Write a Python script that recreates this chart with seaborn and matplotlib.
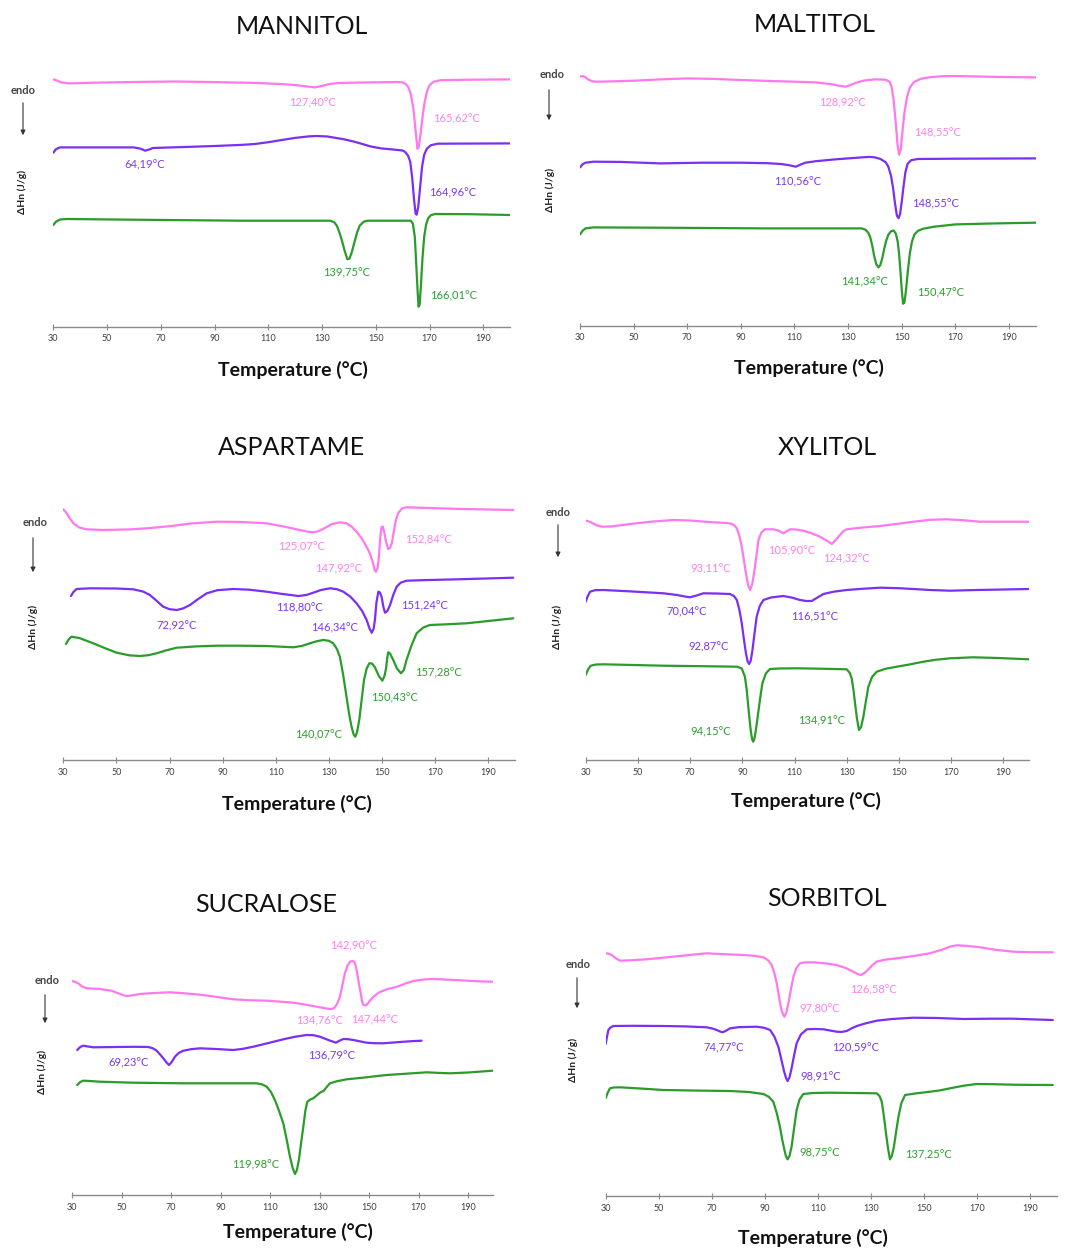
import numpy as np
import pandas as pd
import matplotlib
matplotlib.use('Agg')
import matplotlib.pyplot as plt
import seaborn as sns

# ---------------- data (temperature °C, heat-flow in arbitrary units) ----------------
TICKS = [30, 50, 70, 90, 110, 130, 150, 170, 190]
TITLES = ["MANNITOL", "MALTITOL", "ASPARTAME", "XYLITOL", "SUCRALOSE", "SORBITOL"]
XLABEL = "Temperature (°C)"
YLABEL = "ΔHn (J/g)"
ENDO = "endo"

# MANNITOL
MAN_PINK_T = [30, 31.5, 33, 36, 45, 60, 75, 90, 105, 115, 120, 124, 127.4, 130, 133, 137, 145, 158, 160, 161, 162, 163, 164, 164.8, 165.5, 166, 166.6, 167.3, 168, 169, 170, 171.5, 174, 185, 200]
MAN_PINK_H = [247.3, 246, 244.3, 243.3, 244, 244.7, 245.2, 244.6, 243.8, 242.6, 241.7, 240.3, 239.3, 240.8, 242.8, 243.8, 244.2, 244.7, 244.3, 243, 240, 233, 218, 196, 178, 180, 192, 208, 222, 235, 241.5, 245, 246.5, 247, 247.3]
MAN_PURP_T = [30, 31, 32.5, 40, 55, 60, 62.5, 64.2, 66, 67, 80, 90, 100, 105, 110, 115, 120, 125, 128, 132, 138, 142, 145, 148, 152, 156, 160, 161, 162, 162.8, 163.5, 164.2, 164.8, 165.2, 165.8, 166.5, 167.2, 168, 169, 170.5, 173, 200]
MAN_PURP_H = [174, 177.5, 179.3, 179.3, 179.3, 179.3, 178, 176, 177.5, 178.7, 179.8, 180.7, 181.8, 182.7, 184.5, 186.7, 188.8, 190.3, 190.7, 190.2, 187.5, 185, 182.7, 180.3, 178.3, 177.3, 176.2, 174.5, 171, 165, 150, 128, 113, 112, 120, 140, 160, 172, 178, 181.5, 183, 183.3]
MAN_GREEN_T = [30, 31, 32.5, 35, 60, 100, 133, 134.5, 135.5, 136.5, 137.5, 138.5, 139.4, 140.2, 141, 142, 143, 144, 145.5, 147, 163, 163.8, 164.5, 165, 165.5, 165.9, 166.3, 166.8, 167.4, 168, 168.7, 169.5, 170.5, 172, 185, 200]
MAN_GREEN_H = [101.7, 105, 107.2, 107.7, 107, 106, 106, 104.5, 101, 94, 85, 75, 67.5, 68, 74, 84, 94, 101, 105, 106, 106, 103, 90, 65, 38, 20, 22, 42, 70, 90, 102, 108.5, 111.5, 112.7, 112.5, 111.7]

# MALTITOL
MAL_PINK_T = [30, 31, 32, 33, 34.5, 36, 40, 50, 60, 70, 80, 90, 100, 110, 118, 124, 127, 129, 131, 133, 136, 140, 144, 145.5, 146.3, 147, 147.7, 148.4, 149, 149.6, 150.3, 151, 152, 153, 154.5, 157, 160, 165, 170, 185, 200]
MAL_PINK_H = [249, 249.7, 248.5, 246.3, 244.5, 244, 244.2, 245, 246.3, 247.3, 246.8, 245.7, 244.8, 244, 243.3, 241.5, 239.8, 239, 240.8, 243, 245.2, 246.3, 246, 244, 238, 225, 205, 182, 171, 176, 195, 213, 229, 238, 243.5, 246.8, 248.3, 249.5, 249.7, 248.8, 248.3]
MAL_PURP_T = [30, 31, 32, 35, 45, 60, 75, 90, 100, 105, 108, 110.5, 112, 114, 118, 125, 130, 135, 138, 140, 142, 144, 145, 146, 146.8, 147.5, 148.2, 148.8, 149.4, 150, 150.7, 151.4, 152.2, 153.5, 156, 170, 200]
MAL_PURP_H = [158.3, 161.5, 163, 164, 163.8, 162.3, 163, 163, 162.5, 161.7, 160.5, 159, 160.8, 163, 164.5, 166.3, 167.3, 168.3, 168.8, 168.3, 166.8, 163.5, 159, 150, 137, 122, 110, 107.5, 112, 124, 140, 154, 162, 165.5, 166.7, 167, 167.3]
MAL_GREEN_T = [30, 31, 32, 35, 60, 100, 135, 136.5, 137.5, 138.3, 139, 139.7, 140.5, 141.3, 142, 142.7, 143.4, 144.2, 145, 146, 147, 147.8, 148.5, 149, 149.5, 150, 150.5, 151, 151.6, 152.3, 153, 153.8, 154.7, 156, 158, 162, 170, 185, 200]
MAL_GREEN_H = [91.3, 95, 97.3, 98.3, 98, 97.3, 97.3, 96, 93, 88, 80, 70, 61.5, 58.3, 60.5, 67, 76, 85, 91, 94.5, 95.2, 92, 84, 72, 55, 36, 22, 23, 36, 55, 72, 84, 91, 94.8, 97, 99, 101.3, 102.3, 103]

# ASPARTAME
ASP_PINK_T = [30, 31.3, 32.5, 33.8, 36, 38.8, 45, 55, 62, 70, 78, 87.7, 97, 106.5, 113, 119, 122, 124.1, 126, 128.5, 131, 134.1, 136.5, 138.5, 140.5, 142.3, 144, 145.4, 146.5, 147.2, 147.7, 148.3, 148.8, 149.3, 149.8, 150.3, 150.8, 151.5, 152.3, 153, 153.7, 154.4, 155.2, 156.1, 157.5, 159, 165, 180, 199.4]
ASP_PINK_H = [250.7, 246.7, 241.5, 236.7, 232.5, 230.7, 230, 230.6, 231.8, 233.8, 236.5, 238.3, 238, 236.7, 233.5, 230, 228.3, 227.7, 228.7, 232, 235.8, 237.7, 236.8, 233.5, 228, 221.7, 214, 206.7, 198, 190, 188.3, 192, 203, 222, 233, 233.3, 228, 218, 211, 212, 217, 228, 240, 247, 251.5, 252.7, 252.2, 251, 250]
ASP_PURP_T = [32.9, 33.8, 35, 40, 50, 56.3, 60, 62.6, 65, 67.6, 70, 72.7, 75, 77.7, 80.5, 84, 88, 94, 100, 106.5, 112, 118.5, 121.5, 124.1, 127, 130.4, 133, 135.4, 138, 140.4, 142.5, 144.2, 145.2, 146.1, 146.8, 147.3, 147.9, 148.6, 149.2, 149.8, 150.5, 151.1, 152, 153, 154.2, 155.5, 157, 159.2, 165, 180, 199.4]
ASP_PURP_H = [164, 168, 171, 171.7, 171.5, 170.7, 168.5, 165, 159.5, 153.3, 150.8, 150, 151.5, 155, 160.5, 166.7, 169.8, 171, 170.3, 168.3, 166.2, 164, 165, 167.3, 170, 171.7, 170.8, 168.3, 163.5, 156.7, 149, 140, 132, 127.3, 131, 140, 158, 168.3, 167.5, 163.3, 153, 147.3, 149, 155, 165, 173.3, 177.3, 179.3, 179.8, 180.8, 182.3]
ASP_GREEN_T = [31, 32, 33.1, 36, 41.3, 46, 50.1, 55, 58.9, 62, 65.1, 68.5, 72.7, 80, 87.7, 97, 106.5, 112, 116.6, 120, 122.8, 125.5, 127.9, 130, 131.6, 133, 134.1, 135.3, 136.6, 137.6, 138.5, 139.3, 139.9, 140.6, 141.4, 142.3, 143.2, 144.2, 145.2, 146.2, 147.3, 148.8, 150.1, 150.9, 151.5, 152, 152.3, 153, 154.2, 155.6, 157.1, 158.2, 159.2, 161, 163, 165.5, 168, 175, 181.8, 190, 199.4]
ASP_GREEN_H = [116, 120.5, 123.3, 122, 116.7, 111.5, 107.3, 104.6, 104, 104.8, 106.7, 109.5, 112.3, 113.6, 114.3, 114.3, 114, 113.3, 112.7, 114.2, 116.7, 118.8, 120, 119.2, 116.7, 111, 103.3, 86, 63.3, 46, 33.3, 25.5, 23.3, 28, 40, 60, 80, 91.5, 96.7, 96.5, 92.7, 84, 79.3, 84, 91.7, 103, 107.7, 106.5, 100, 91.5, 86.7, 90, 100, 114, 126.7, 132.5, 135, 135.8, 136.7, 139, 141.7]

# XYLITOL
XYL_PINK_T = [30, 31, 32.3, 34, 36.1, 40, 47, 55, 63.6, 70, 78.9, 84, 85.9, 87, 87.9, 88.9, 89.8, 90.6, 91.4, 92.2, 93, 93.8, 94.5, 95.4, 96.2, 97.3, 98.7, 101.9, 104, 105.7, 107, 108.3, 110.5, 113.4, 116.5, 119.8, 122.3, 124.3, 125.8, 127.4, 128.7, 130, 135, 142.8, 150, 155.5, 162, 168.3, 175, 181.1, 190, 199.9]
XYL_PINK_H = [239.3, 238.8, 237.3, 235, 233.3, 233.6, 236, 238.3, 240, 239.5, 237.7, 237, 236.2, 234.5, 231.7, 224, 213.3, 200, 186.7, 175, 170, 176, 186.7, 204, 220, 227.5, 230.7, 230.7, 229.3, 226.7, 228.8, 230.7, 230.5, 229.3, 226.8, 223.3, 219.5, 216, 220, 225, 228.8, 230.7, 232.2, 234, 236.3, 238.3, 240.2, 240.7, 239.7, 238.3, 238.3, 238.3]
XYL_PURP_T = [30, 30.8, 31.7, 33.5, 36.8, 48, 59.8, 65, 68, 70, 72.5, 75.1, 80, 85.3, 86.8, 87.9, 88.9, 89.8, 90.6, 91.4, 92, 92.6, 93.2, 93.9, 94.7, 95.5, 96.7, 98.1, 101, 105.7, 109, 112.1, 114.5, 116.6, 118.8, 121.1, 125, 130, 136, 142.8, 150, 155.5, 162, 169.6, 180, 199.9]
XYL_PURP_H = [158.3, 164, 168.3, 169.8, 170, 168.5, 166.7, 165, 163.5, 162.7, 164.5, 166.7, 166.5, 166, 164, 160, 150, 136.7, 121, 106.7, 99, 96, 99, 110, 127, 143.3, 154, 160, 162.5, 164, 162.4, 160, 159, 159, 162.5, 166, 168.3, 170, 171.2, 172.3, 171.8, 171, 170, 169.3, 170, 171]
XYL_GREEN_T = [30, 30.9, 31.9, 34, 36.8, 48, 59.8, 75, 88, 89.8, 91, 91.7, 92.3, 92.8, 93.3, 93.8, 94.2, 94.6, 95, 95.9, 96.8, 97.7, 99, 100.6, 104, 110.8, 120, 130, 131.2, 131.9, 132.6, 133.2, 133.9, 134.7, 135.5, 136.4, 137.3, 138.3, 139.7, 141.5, 145, 149.2, 154, 159.4, 164, 169.6, 178.5, 188, 199.9]
XYL_GREEN_H = [85, 90.5, 94.3, 95.5, 95.7, 95, 94.3, 93.8, 93.3, 91.5, 83.3, 70, 53.3, 40, 28, 20.5, 18.3, 21, 26.5, 43.3, 61, 76.7, 86.5, 91, 91.5, 91.7, 91.3, 90.7, 87, 81.7, 70, 56.7, 42, 30, 33, 43.3, 58, 73.3, 83, 88.3, 91.3, 93.3, 95.5, 98.3, 100.2, 101.7, 102.7, 102, 100.7]

# SUCRALOSE
SUC_PINK_T = [30, 31, 32.4, 34, 35.8, 41.2, 45.9, 47.6, 49.3, 51, 52.6, 55, 57.4, 63, 69.5, 75, 81.6, 88, 95.1, 101, 108.6, 115, 119.4, 124, 128.8, 132, 134.2, 135.3, 136.2, 137.2, 138.2, 139.2, 140.2, 141.2, 142.3, 143.2, 144, 144.6, 145.2, 145.9, 146.6, 147.2, 147.7, 148.4, 149, 150.2, 151.7, 154, 157.1, 160, 162.5, 165, 167.9, 172, 176, 183, 189.4, 195, 199.9]
SUC_PINK_H = [214, 213.2, 211.7, 208.5, 206.7, 206, 204.3, 202.6, 201, 199.5, 199, 200, 201, 202, 202.7, 201.8, 200.3, 198.2, 195.7, 194.8, 194.3, 193.2, 192.3, 190.5, 188.3, 186.8, 186, 186.3, 187.7, 192, 198.3, 210, 221.7, 229, 233.3, 234, 233.3, 229, 221.7, 211, 201.7, 193, 190, 189.8, 190, 194, 198.3, 202.5, 205.7, 207.5, 209.3, 211.8, 214, 215.5, 216, 215.2, 214.3, 213.6, 213.3]
SUC_PURP_T = [32, 33.2, 34.4, 36, 38.5, 47.9, 55, 60.7, 62.5, 64.1, 65.5, 66.8, 68, 69.1, 70.2, 71.5, 73, 74.9, 78, 81.6, 88, 95.1, 99, 103.2, 109, 115.3, 120, 124.7, 127.5, 130.1, 133.5, 136.6, 138, 139.6, 141.5, 143.6, 146, 149, 152, 155.7, 162.5, 167, 171.2]
SUC_PURP_H = [145, 148, 149.3, 148.6, 147.7, 148, 148.2, 148, 146.8, 144.3, 140.5, 136.7, 132.8, 130, 133, 138.3, 142, 144.3, 145.8, 146.7, 146, 145, 146.2, 148.3, 151.8, 155.7, 158.2, 160, 159.8, 158.3, 155, 152.3, 154.3, 156, 155.8, 155, 153.8, 152.3, 151.8, 151.7, 153, 153.8, 154.3]
SUC_GREEN_T = [32, 33.2, 34.4, 37, 41.2, 54.7, 74.9, 95.1, 104.5, 106.8, 108.6, 110.3, 111.9, 113.6, 115.3, 116.7, 118, 119.1, 120, 120.8, 121.6, 122.5, 123.4, 124.2, 125, 126.2, 127.4, 128.8, 130.1, 131.7, 133, 134.2, 137, 140.9, 145, 149, 153, 157.1, 165, 173.3, 178, 182.7, 190, 199.9]
SUC_GREEN_H = [110, 113, 114.3, 114, 113.3, 112.3, 111.7, 111.7, 111.7, 110.5, 108.3, 103, 95, 84, 71.7, 55, 38.3, 27, 21, 25, 35, 52, 68.3, 84, 93.3, 95.5, 96.7, 99.5, 102.3, 104.3, 108.5, 111.7, 113.8, 115.7, 116.7, 117.7, 118.9, 120, 121.3, 122.7, 122.1, 121.7, 122.5, 124.3]

# SORBITOL
SOR_PINK_T = [30, 31, 32.3, 33.8, 35.4, 40, 45.5, 52, 58, 63, 68.1, 75, 81.9, 86, 89.5, 91.2, 92.6, 93.6, 94.5, 95.3, 96, 96.7, 97.4, 98.1, 98.9, 99.8, 100.8, 102, 103.3, 105, 108.3, 113, 117.1, 120.5, 123.4, 125, 126.3, 127.7, 129.1, 130.6, 132.2, 135, 139.7, 146, 152.3, 157, 160, 162.4, 166, 171.2, 177, 183.7, 190, 198.6]
SOR_PINK_H = [242.7, 242.4, 241, 237.8, 235.3, 235.8, 236.7, 238.4, 240, 241.4, 242.7, 241.8, 241, 240.2, 238.7, 235.8, 231, 223, 212.7, 200, 189.3, 182.5, 179.3, 183, 192.7, 206, 219.3, 228.5, 232.7, 233.6, 233.7, 232.6, 231, 228, 224.3, 222, 221, 223.3, 226.7, 231, 234.3, 236.2, 237.7, 240, 242.7, 246.5, 249.5, 250.7, 250.2, 248.7, 246.2, 244.3, 243.8, 243.7]
SOR_PURP_T = [30, 30.4, 31, 31.8, 32.9, 40, 51.7, 60, 68.1, 70.2, 71.9, 73, 74.1, 75.4, 76.9, 80, 86.9, 89.8, 92, 93.6, 95.1, 96.2, 97.3, 98, 98.6, 99.3, 100.1, 101, 102, 103.6, 105.8, 109, 112.1, 115, 117.1, 119, 120.9, 122.7, 124.7, 128, 132.2, 138, 146, 155, 164.9, 175, 183.7, 190, 198.6]
SOR_PURP_H = [152, 158, 166, 168.5, 170, 170.2, 170, 169.6, 168.7, 167.5, 166, 164.6, 163.7, 165.3, 167.7, 168.8, 169.3, 168.2, 166, 159.5, 149.3, 137, 124.3, 118, 115, 118.5, 127.7, 140, 152.7, 161.5, 166.7, 167, 166.7, 165.3, 164.3, 164.1, 165, 167.6, 170, 172.6, 175.3, 177, 178.3, 178, 177, 177.3, 177.3, 176.7, 176]
SOR_GREEN_T = [30, 30.7, 31.6, 33, 35.4, 43, 51.7, 65, 76.9, 84, 89.5, 91.5, 93.2, 94.5, 95.7, 96.6, 97.4, 98, 98.6, 99.3, 100.1, 101, 102, 103.1, 104.5, 108, 114.6, 123, 132.2, 133.3, 134.1, 134.9, 135.7, 136.5, 137.2, 137.9, 138.7, 139.5, 140.4, 141.5, 142.9, 147, 152.3, 156, 159.9, 165, 169.9, 176, 183.7, 190, 198.6]
SOR_GREEN_H = [97.7, 103, 107.7, 108.5, 108.7, 107.5, 106, 105.4, 105, 104, 102, 99.2, 94.3, 83, 69.3, 56, 46, 39.5, 36.7, 40, 49.3, 67, 86, 96.5, 102, 103, 103.3, 103, 102.7, 99.8, 94.3, 80, 62.7, 47, 36.7, 40, 49.3, 64, 79.3, 93, 101, 102.6, 104.3, 105.6, 107.7, 110.3, 112, 111.8, 111.3, 111.1, 111]

# peak annotation texts per panel
MAN_LABELS = ["127,40°C", "165,62°C", "64,19°C", "164,96°C", "139,75°C", "166,01°C"]
MAL_LABELS = ["128,92°C", "148,55°C", "110,56°C", "148,55°C", "141,34°C", "150,47°C"]
ASP_LABELS = ["125,07°C", "147,92°C", "152,84°C", "72,92°C", "118,80°C", "146,34°C", "151,24°C", "157,28°C", "150,43°C", "140,07°C"]
XYL_LABELS = ["93,11°C", "105,90°C", "124,32°C", "70,04°C", "116,51°C", "92,87°C", "94,15°C", "134,91°C"]
SUC_LABELS = ["142,90°C", "134,76°C", "147,44°C", "69,23°C", "136,79°C", "119,98°C"]
SOR_LABELS = ["126,58°C", "97,80°C", "74,77°C", "120,59°C", "98,91°C", "98,75°C", "137,25°C"]

# ---------------- styling / layout ----------------
W, H = 1066, 1249
PINK, PURPLE, GREEN = '#FF78EE', '#7B2EF4', '#2A9C2A'
PINK_TXT, PURPLE_TXT, GREEN_TXT = '#FF80EA', '#7B38F0', '#2E9E2E'

sns.set_theme(style='white')
plt.rcParams['font.family'] = ['Lato', 'DejaVu Sans']

fig = plt.figure(figsize=(W / 100, H / 100), dpi=100)


def fx(x):
    return x / W


def fy(y):
    return 1 - y / H


panels = [
    dict(title=TITLES[0], curves=[(MAN_PINK_T, MAN_PINK_H, PINK), (MAN_PURP_T, MAN_PURP_H, PURPLE), (MAN_GREEN_T, MAN_GREEN_H, GREEN)],
         labels=MAN_LABELS,
         lpos=[(126.3, 223.7, 'p'), (180.2, 207.7, 'p'), (64.1, 161.7, 'v'), (178.4, 133.7, 'v'), (139.3, 53.7, 'g'), (179.1, 30.7, 'g')],
         box=(53.3, 510.2, 326.7, 266.7), tpos=(302, 27), xpos=(293, 370), endo=(23, 90), arrow=(23, 100, 138), ypos=(22, 192)),
    dict(title=TITLES[1], curves=[(MAL_PINK_T, MAL_PINK_H, PINK), (MAL_PURP_T, MAL_PURP_H, PURPLE), (MAL_GREEN_T, MAL_GREEN_H, GREEN)],
         labels=MAL_LABELS,
         lpos=[(127.9, 223, 'p'), (163.3, 192.4, 'p'), (111.1, 143.7, 'v'), (162.7, 121.7, 'v'), (136, 44, 'g'), (164.6, 33, 'g')],
         box=(580, 1035.8, 325.7, 265.7), tpos=(815, 25), xpos=(809, 368), endo=(552, 75), arrow=(549, 87, 123), ypos=(550, 190)),
    dict(title=TITLES[2], curves=[(ASP_PINK_T, ASP_PINK_H, PINK), (ASP_PURP_T, ASP_PURP_H, PURPLE), (ASP_GREEN_T, ASP_GREEN_H, GREEN)],
         labels=ASP_LABELS,
         lpos=[(119.7, 213.3, 'p'), (133.5, 190.7, 'p'), (167.6, 220, 'p'), (72.7, 134, 'v'), (118.8, 151.7, 'v'), (132, 132.3, 'v'),
               (165.8, 154.3, 'v'), (171.4, 87.3, 'g'), (154.6, 61.7, 'g'), (126, 25, 'g')],
         box=(63.3, 514.9, 760, 270), tpos=(291, 448), xpos=(297, 804), endo=(35, 523), arrow=(33, 535, 575), ypos=(33, 627)),
    dict(title=TITLES[3], curves=[(XYL_PINK_T, XYL_PINK_H, PINK), (XYL_PURP_T, XYL_PURP_H, PURPLE), (XYL_GREEN_T, XYL_GREEN_H, GREEN)],
         labels=XYL_LABELS,
         lpos=[(78, 190.7, 'p'), (108.9, 209, 'p'), (129.7, 201, 'p'), (68.7, 148.3, 'v'), (117.6, 142.7, 'v'), (77, 113.3, 'v'),
               (78, 28.3, 'g'), (120.4, 39.3, 'g')],
         box=(585.7, 1029.4, 760, 270), tpos=(827, 448), xpos=(806, 801), endo=(558, 513), arrow=(558, 522, 560), ypos=(557, 627)),
    dict(title=TITLES[4], curves=[(SUC_PINK_T, SUC_PINK_H, PINK), (SUC_PURP_T, SUC_PURP_H, PURPLE), (SUC_GREEN_T, SUC_GREEN_H, GREEN)],
         labels=SUC_LABELS,
         lpos=[(143.6, 249, 'p'), (129.9, 174, 'p'), (152.4, 175, 'p'), (52.6, 132.3, 'v'), (134.9, 139, 'v'), (104.3, 30, 'g')],
         box=(72.3, 492.8, 1195, 275), tpos=(266, 904), xpos=(298, 1232), endo=(47, 980), arrow=(45, 992, 1026), ypos=(42, 1072)),
    dict(title=TITLES[5], curves=[(SOR_PINK_T, SOR_PINK_H, PINK), (SOR_PURP_T, SOR_PURP_H, PURPLE), (SOR_GREEN_T, SOR_GREEN_H, GREEN)],
         labels=SOR_LABELS,
         lpos=[(130.9, 206, 'p'), (110.6, 187.3, 'p'), (74.4, 147.7, 'v'), (124.4, 147.7, 'v'), (111.2, 118.7, 'v'), (110.8, 43.3, 'g'),
               (151.7, 41, 'g')],
         box=(605.7, 1056.5, 1196, 276), tpos=(827, 899), xpos=(813, 1238), endo=(578, 965), arrow=(577, 975, 1011), ypos=(573, 1060)),
]

TXT_COL = {'p': PINK_TXT, 'v': PURPLE_TXT, 'g': GREEN_TXT}

for p in panels:
    l, r, b, hgt = p['box']
    ax = fig.add_axes([fx(l), fy(b), (r - l) / W, hgt / H])
    for T, Hh, c in p['curves']:
        df = pd.DataFrame({'T': T, 'h': Hh})
        sns.lineplot(data=df, x='T', y='h', ax=ax, color=c, linewidth=1.6, sort=False, estimator=None)
    for line in ax.lines:
        line.set_solid_joinstyle('round')
        line.set_solid_capstyle('round')
    ax.set_xlim(30, 200)
    ax.set_ylim(0, hgt)
    ax.set_xticks(TICKS)
    ax.set_xticklabels([str(t) for t in TICKS])
    ax.set_yticks([])
    ax.set_xlabel('')
    ax.set_ylabel('')
    ax.patch.set_visible(False)
    for s in ['top', 'right', 'left']:
        ax.spines[s].set_visible(False)
    ax.spines['bottom'].set_color('#8a8a8a')
    ax.spines['bottom'].set_linewidth(1.0)
    ax.tick_params(axis='x', direction='inout', length=5, width=0.8, colors='#8a8a8a',
                   labelsize=6.5, labelcolor='#404040', pad=3, bottom=True)
    for txt, (tx, ty, k) in zip(p['labels'], p['lpos']):
        ax.text(tx, ty, txt, color=TXT_COL[k], fontsize=8, ha='center', va='center')

    fig.text(fx(p['tpos'][0]), fy(p['tpos'][1]), p['title'], fontsize=18, ha='center', va='center', color='#111111')
    fig.text(fx(p['xpos'][0]), fy(p['xpos'][1]), XLABEL, fontsize=14, fontweight='bold', ha='center', va='center', color='#111111')
    fig.text(fx(p['endo'][0]), fy(p['endo'][1]), ENDO, fontsize=8, fontweight='bold', ha='center', va='center', color='#444444')
    ax_, a0, a1 = p['arrow']
    fig.patches.append(matplotlib.patches.FancyArrowPatch((fx(ax_), fy(a0)), (fx(ax_), fy(a1)), transform=fig.transFigure,
                                                          arrowstyle='-|>', mutation_scale=7, color='#333333', lw=0.8))
    fig.text(fx(p['ypos'][0]), fy(p['ypos'][1]), YLABEL, fontsize=7.5, fontweight='bold', rotation=90, ha='center', va='center', color='#222222')

fig.savefig('out.png', dpi=100, facecolor='white')
